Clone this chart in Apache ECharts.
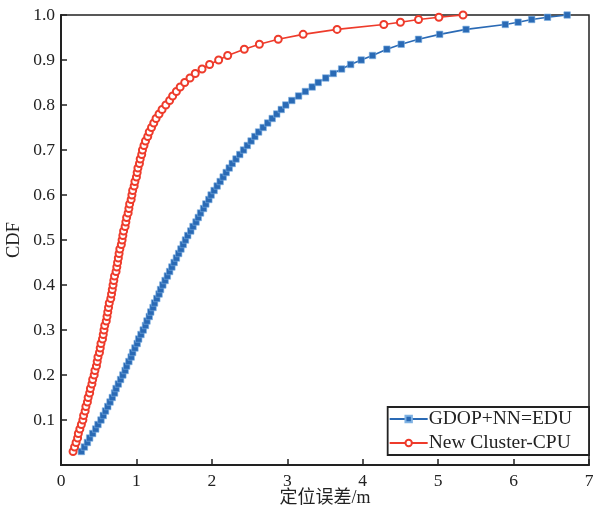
<!DOCTYPE html>
<html>
<head>
<meta charset="utf-8">
<script src="https://cdn.jsdelivr.net/npm/echarts@6/dist/echarts.min.js"></script>
<style>
  html, body { margin: 0; padding: 0; background: #fff; }
  #chart { width: 594px; height: 511px; }
</style>
</head>
<body>
<div id="chart"></div>
<script>
// CDF levels shared by both curves
var cdfLevels = [
  0.03, 0.04, 0.05, 0.06, 0.07, 0.08, 0.09, 0.10, 0.11, 0.12,
  0.13, 0.14, 0.15, 0.16, 0.17, 0.18, 0.19, 0.20, 0.21, 0.22,
  0.23, 0.24, 0.25, 0.26, 0.27, 0.28, 0.29, 0.30, 0.31, 0.32,
  0.33, 0.34, 0.35, 0.36, 0.37, 0.38, 0.39, 0.40, 0.41, 0.42,
  0.43, 0.44, 0.45, 0.46, 0.47, 0.48, 0.49, 0.50, 0.51, 0.52,
  0.53, 0.54, 0.55, 0.56, 0.57, 0.58, 0.59, 0.60, 0.61, 0.62,
  0.63, 0.64, 0.65, 0.66, 0.67, 0.68, 0.69, 0.70, 0.71, 0.72,
  0.73, 0.74, 0.75, 0.76, 0.77, 0.78, 0.79, 0.80, 0.81, 0.82,
  0.83, 0.84, 0.85, 0.86, 0.87, 0.88, 0.89, 0.90, 0.91,
  0.924, 0.935, 0.946, 0.957, 0.968, 0.979, 0.984, 0.990, 0.995, 1.0
]

// 定位误差 (m) for GDOP+NN=EDU
var gdopErr = [
  0.27, 0.31, 0.35, 0.38, 0.42, 0.46, 0.49, 0.53, 0.56, 0.59,
  0.62, 0.65, 0.68, 0.71, 0.73, 0.76, 0.79, 0.82, 0.85, 0.87,
  0.90, 0.93, 0.95, 0.98, 1.01, 1.03, 1.06, 1.09, 1.12, 1.14,
  1.17, 1.19, 1.22, 1.24, 1.27, 1.30, 1.32, 1.35, 1.38, 1.41,
  1.44, 1.47, 1.50, 1.53, 1.56, 1.59, 1.62, 1.65, 1.68, 1.72,
  1.75, 1.79, 1.82, 1.85, 1.89, 1.92, 1.96, 1.99, 2.03, 2.07,
  2.11, 2.15, 2.19, 2.23, 2.27, 2.32, 2.37, 2.42, 2.47, 2.52,
  2.57, 2.62, 2.68, 2.74, 2.80, 2.86, 2.92, 2.98, 3.06, 3.15,
  3.24, 3.33, 3.41, 3.51, 3.61, 3.72, 3.84, 3.98, 4.13,
  4.32, 4.51, 4.74, 5.02, 5.37, 5.89, 6.06, 6.24, 6.45, 6.71
]

// 定位误差 (m) for New Cluster-CPU
var clusterErr = [
  0.16, 0.18, 0.20, 0.22, 0.23, 0.25, 0.27, 0.29, 0.30, 0.32,
  0.33, 0.35, 0.36, 0.38, 0.39, 0.41, 0.42, 0.44, 0.45, 0.47,
  0.48, 0.49, 0.51, 0.52, 0.53, 0.55, 0.56, 0.57, 0.58, 0.60,
  0.61, 0.62, 0.63, 0.64, 0.66, 0.67, 0.68, 0.69, 0.70, 0.71,
  0.73, 0.74, 0.75, 0.76, 0.77, 0.78, 0.80, 0.81, 0.82, 0.83,
  0.85, 0.86, 0.87, 0.89, 0.90, 0.91, 0.93, 0.94, 0.95, 0.97,
  0.98, 1.00, 1.01, 1.02, 1.04, 1.05, 1.07, 1.08, 1.10, 1.12,
  1.15, 1.17, 1.20, 1.23, 1.26, 1.30, 1.34, 1.39, 1.44, 1.48,
  1.53, 1.58, 1.64, 1.71, 1.78, 1.87, 1.97, 2.09, 2.21,
  2.43, 2.63, 2.88, 3.21, 3.66, 4.28, 4.50, 4.74, 5.01, 5.33
]

var seriesNames = ['GDOP+NN=EDU', 'New Cluster-CPU']

function toPoints(xs) {
  return xs.map(function (x, i) { return [x, cdfLevels[i]] })
}

var serif = "'Liberation Serif', 'DejaVu Serif', serif"
var chart = echarts.init(document.getElementById('chart'), null, { renderer: 'canvas' })

var option = {
  animation: false,
  backgroundColor: '#fff',
  grid: {
    left: 61, right: 5, top: 15, bottom: 46,
    outerBoundsMode: 'none',
    containLabel: false,
    show: true, borderColor: '#222', borderWidth: 1.5
  },
  legend: {
    orient: 'vertical',
    right: 5,
    bottom: 56,
    padding: [2, 17, 2, 1],
    itemGap: 4,
    itemWidth: 38,
    itemHeight: 8,
    borderColor: '#222',
    borderWidth: 1.8,
    backgroundColor: '#fff',
    textStyle: { fontFamily: serif, fontSize: 19.5, color: '#222', padding: [0, 0, 0, -4] },
    data: seriesNames
  },
  xAxis: {
    type: 'value',
    min: 0, max: 7, interval: 1,
    name: '定位误差/m',
    nameLocation: 'middle',
    nameGap: 24,
    nameMoveOverlap: false,
    nameTextStyle: { fontFamily: "'Liberation Serif', 'Noto Sans CJK SC', serif", fontSize: 18, color: '#222' },
    axisLine: { show: true, lineStyle: { color: '#222', width: 2 } },
    axisTick: { show: true, inside: true, length: 6, lineStyle: { color: '#222', width: 1.5 } },
    axisLabel: { fontFamily: serif, fontSize: 17.5, color: '#222', margin: 7 },
    splitLine: { show: false }
  },
  yAxis: {
    type: 'value',
    min: 0, max: 1, interval: 0.1,
    name: 'CDF',
    nameLocation: 'middle',
    nameGap: 37,
    nameRotate: 90,
    nameMoveOverlap: false,
    nameTextStyle: { fontFamily: serif, fontSize: 18.5, color: '#222' },
    axisLine: { show: true, lineStyle: { color: '#222', width: 2 } },
    axisTick: { show: true, inside: true, length: 6, lineStyle: { color: '#222', width: 1.5 } },
    axisLabel: {
      fontFamily: serif, fontSize: 17.5, color: '#222', margin: 6,
      formatter: function (v) { return v === 0 ? '' : v.toFixed(1) }
    },
    splitLine: { show: false }
  },
  series: [
    {
      name: seriesNames[0],
      type: 'line',
      data: toPoints(gdopErr),
      symbol: 'rect',
      symbolSize: 6.5,
      showAllSymbol: true,
      lineStyle: { color: '#2a6ab5', width: 1.6 },
      itemStyle: { color: '#2a6ab5', borderColor: '#7fb2e3', borderWidth: 0.6 }
    },
    {
      name: seriesNames[1],
      type: 'line',
      data: toPoints(clusterErr),
      symbol: 'emptyCircle',
      symbolSize: 7,
      showAllSymbol: true,
      lineStyle: { color: '#ee3b2b', width: 1.6 },
      itemStyle: { color: '#ee3b2b', borderColor: '#ee3b2b', borderWidth: 1.3 }
    }
  ]
}

chart.setOption(option)
</script>
</body>
</html>
